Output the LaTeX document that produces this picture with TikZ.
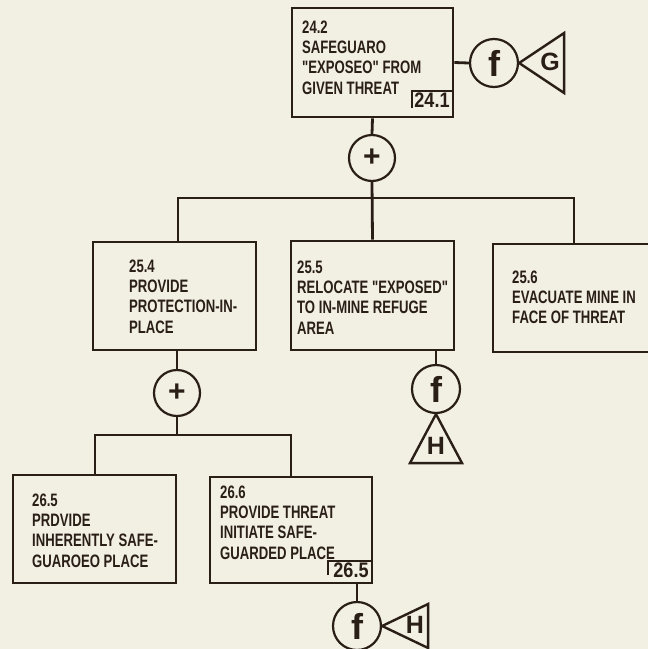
\documentclass[tikz,border=0pt]{standalone}
\usepackage{fontspec}
\setmainfont{Liberation Sans}[FakeStretch=0.73, Ligatures=TeXOff]
\newfontfamily\labfont{Liberation Sans}[FakeStretch=0.86]
\newfontfamily\symfont{Liberation Sans}
\newcommand{\dq}{\char34\relax}
\definecolor{bg}{HTML}{F2EFE3}
\definecolor{ink}{HTML}{2A1F17}
\tikzset{
  boxn/.style={draw=ink, line width=2.8pt, rectangle, inner sep=0pt},
  txt/.style={anchor=north west, inner sep=0pt, align=left, text=ink,
    font=\fontsize{18}{20.3}\selectfont\bfseries},
  labn/.style={inner sep=0pt, text=ink, font=\fontsize{21}{21}\selectfont\labfont\bfseries},
  conn/.style={draw=ink, line width=2.8pt},
  gatec/.style={draw=ink, line width=2.2pt, circle, inner sep=0pt, minimum size=46pt, text=ink,
    font=\fontsize{30}{30}\selectfont\symfont\bfseries},
  fc/.style={draw=ink, line width=2.2pt, circle, inner sep=0pt, minimum size=48pt, text=ink,
    font=\fontsize{36}{36}\selectfont\symfont\bfseries},
  tri/.style={draw=ink, line width=2.4pt, line join=miter},
  trilet/.style={inner sep=0pt, text=ink, font=\fontsize{25}{25}\selectfont\symfont\bfseries}
}
\begin{document}
\begin{tikzpicture}[x=1pt, y=-1pt]
\useasboundingbox (0,0) rectangle (648,649);
\fill[bg] (0,0) rectangle (648,649);
\clip (0,0) rectangle (648,649);

% boxes
\node[boxn, minimum width=161pt, minimum height=109pt] (b242) at (372.5,62.5) {};
\node[boxn, minimum width=163pt, minimum height=108pt] (b254) at (174.5,296) {};
\node[boxn, minimum width=163pt, minimum height=109pt] (b255) at (372.5,295.5) {};
\node[boxn, minimum width=172pt, minimum height=108pt] (b256) at (579,298) {};
\node[boxn, minimum width=163pt, minimum height=108pt] (b265) at (94.5,529) {};
\node[boxn, minimum width=162pt, minimum height=106pt] (b266) at (291,530) {};

% texts
\node[txt] (t242) at (302,20.5) {24.2\\SAFEGUARO\\\dq EXPOSEO\dq{} FROM\\GIVEN THREAT};
\node[txt] (t254) at (129,259.5) {25.4\\PROVIDE\\PROTECTION-IN-\\PLACE};
\node[txt] (t255) at (297,260.5) {25.5\\RELOCATE \dq EXPOSED\dq\\TO IN-MINE REFUGE\\AREA};
\node[txt] (t256) at (512,270.5) {25.6\\EVACUATE MINE IN\\FACE OF THREAT};
\node[txt] (t265) at (32,493.5) {26.5\\PRDVIDE\\INHERENTLY SAFE-\\GUAROEO PLACE};
\node[txt] (t266) at (220,485.5) {26.6\\PROVIDE THREAT\\INITIATE SAFE-\\GUARDED PLACE};

% reference labels
\node[labn] (l241) at (432,100.5) {24.1};
\draw[conn, line width=1.6pt] (412,108) |- (b242.east |- 0,91);
\node[labn] (l265) at (351,570) {26.5};
\draw[conn, line width=1.6pt] (328,575) |- (b266.east |- 0,561);

% gates
\node[gatec] (p1) at (372,158) {+};
\node[gatec] (p2) at (177,393) {+};
\node[fc] (f1) at (494,63) {f};
\node[fc] (f2) at (436,389) {f};
\node[fc] (f3) at (357,626) {f};

% junction coordinates
\coordinate (jl) at (178,198);
\coordinate (jm) at (372,198);
\coordinate (jr) at (574,198);
\coordinate (kl) at (95,435);
\coordinate (km) at (177,435);
\coordinate (kr) at (291,435);

% connectors
\draw[conn] (b242.south) -- (p1.north);
\draw[conn] (p1.south) -- (b255.north);
\draw[conn, line cap=rect] (jl) -- (jr);
\draw[conn] (jl) -- (b254.north -| jl);
\draw[conn] (jr) -- (b256.north -| jr);
\draw[conn] (b254.south -| p2) -- (p2.north);
\draw[conn] (p2.south) -- (km);
\draw[conn, line cap=rect] (kl) -- (kr);
\draw[conn] (kl) -- (b265.north -| kl);
\draw[conn] (kr) -- (b266.north -| kr);
\draw[conn] (b242.east) -- (f1.west);
\draw[conn] (b255.south -| f2) -- (f2.north);
\draw[conn] (b266.south -| f3) -- (f3.north);

% transfer triangles
\draw[tri] (f1.east) -- ++(45,-30) -- ++(0,60) -- cycle;
\node[trilet] (g1) at (550,62) {G};
\draw[tri] (f2.south) -- ++(-26,49) -- ++(52,0) -- cycle;
\node[trilet] (h1) at (436,446) {H};
\draw[tri] (f3.east) -- ++(46,-22) -- ++(0,44) -- cycle;
\node[trilet] (h2) at (415,625) {H};
\end{tikzpicture}
\end{document}
